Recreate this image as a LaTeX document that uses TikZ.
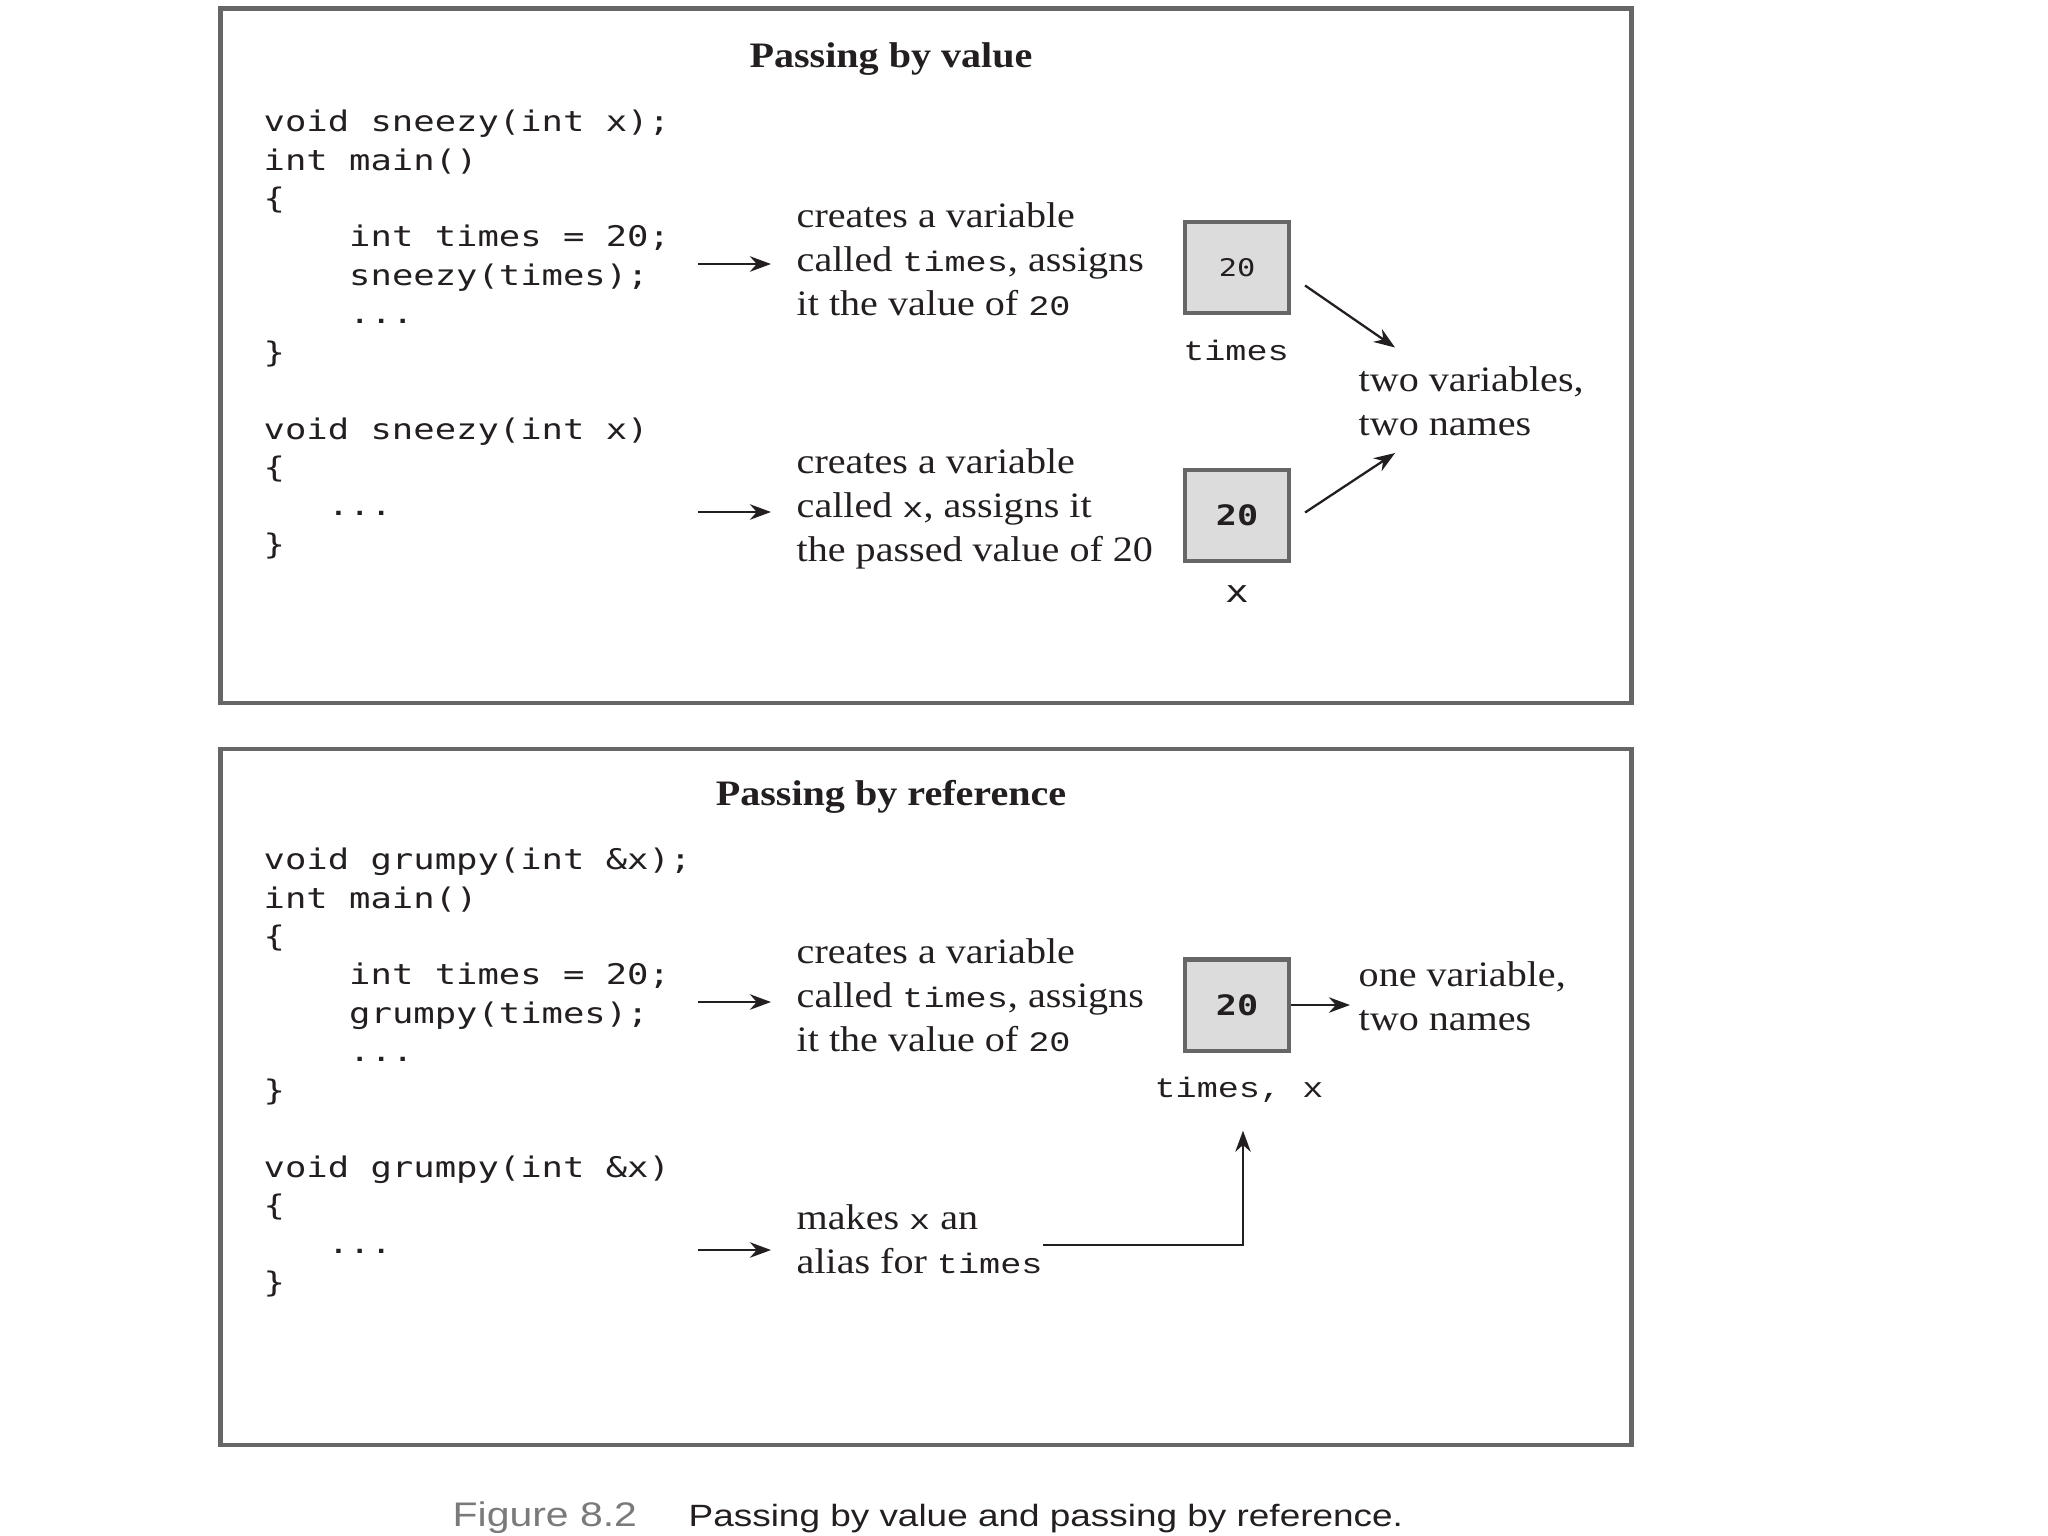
\documentclass[tikz,border=0pt]{standalone}
\usepackage{fontspec}
\setmainfont[FakeStretch=1.12]{Liberation Serif}
\newfontfamily\codefont[FakeStretch=1.25]{DejaVu Sans Mono}
\newfontfamily\namefont[FakeStretch=1.25]{Liberation Mono}
\newfontfamily\capfont[FakeStretch=1.2]{Liberation Sans}
\usepackage{xcolor}
\usetikzlibrary{arrows.meta}
\usetikzlibrary{positioning}

\definecolor{inkblack}{HTML}{231F20}
\definecolor{framegray}{HTML}{666666}
\definecolor{boxgray}{HTML}{DCDCDC}
\definecolor{captiongray}{HTML}{7A7A7A}

\newcommand{\vn}[1]{{\namefont\fontsize{8}{12.5}\selectfont #1}}

\tikzset{
	panelframe/.style={draw=framegray, line width=1.4pt},
	paneltitle/.style={anchor=base, inner sep=0pt, font=\bfseries\fontsize{10.18}{12}\selectfont},
	codeblock/.style={anchor=base west, inner sep=0pt, align=left,
		font=\codefont\fontsize{8.08}{10.93}\selectfont},
	notetext/.style={anchor=base west, inner sep=0pt, align=left,
		font=\fontsize{10.18}{12.5}\selectfont},
	valbox/.style={draw=framegray, line width=1.15pt, fill=boxgray,
		minimum width=1.04cm, minimum height=0.91cm, inner sep=0pt},
	varlabel/.style={anchor=base, inner sep=0pt, font=\namefont\fontsize{8}{9}\selectfont},
	link/.style={-{Stealth[length=6pt,width=4.4pt]}, line width=0.65pt, draw=inkblack},
}

\begin{document}
\begin{tikzpicture}[x=0.01cm, y=-0.01cm, every node/.style={text=inkblack}]
	\useasboundingbox (0,0) rectangle (2048,1536);
	
	% passing by value (multi-line nodes sit on their last baseline)
	\draw[panelframe] (220.5,8.5) rectangle (1631.5,703);
	\node[paneltitle] (title1) at (891,67) {Passing by value};
	\node[codeblock] (code1) at (263,554.4) {void sneezy(int x);\\int main()\\\{\\
		\hphantom{xxxx}int times = 20;\\\hphantom{xxxx}sneezy(times);\\\hphantom{xxxx}...\\\}\\
		\mbox{}\\void sneezy(int x)\\\{\\\hphantom{xxx}...\\\}};
	
	\node[notetext] (note1) at (796,315) {creates a variable\\called \vn{times}, assigns\\it the value of \vn{20}};
	\node[notetext] (note2) at (796,561) {creates a variable\\called \vn{x}, assigns it\\the passed value of 20};
	
	\node[valbox, font=\codefont\fontsize{6.9}{8}\selectfont] (val1) at (1237,267.5) {20};
	\node[valbox, font=\codefont\bfseries\fontsize{8}{9}\selectfont] (val2) at (1237,515.5) {20};
	\node[varlabel] (name1) at (1236,360) {times};
	\node[varlabel, font=\codefont\fontsize{8.8}{9}\selectfont] (name2) at (1237,602) {x};
	
	\node[notetext] (sum1) at (1358,435) {two variables,\\two names};
	
	\coordinate (from1) at (698,264);
	\coordinate (from2) at (698,512);
	\draw[link, shorten >=0.25cm] (from1) -- (from1 -| note1.west);
	\draw[link, shorten >=0.25cm] (from2) -- (from2 -| note2.west);
	\draw[link] ([shift={(14,18)}]val1.east) -- ([shift={(37,-18)}]sum1.north west);
	\draw[link] ([shift={(14,-3)}]val2.east) -- ([shift={(37,17)}]sum1.south west);
	
	% passing by reference
	\draw[panelframe] (220.5,749) rectangle (1631.5,1445);
	\node[paneltitle] (title2) at (891,805) {Passing by reference};
	\node[codeblock] (code2) at (263,1292.4) {void grumpy(int \&x);\\int main()\\\{\\
		\hphantom{xxxx}int times = 20;\\\hphantom{xxxx}grumpy(times);\\\hphantom{xxxx}...\\\}\\
		\mbox{}\\void grumpy(int \&x)\\\{\\\hphantom{xxx}...\\\}};
	
	\node[notetext] (note3) at (796,1051) {creates a variable\\called \vn{times}, assigns\\it the value of \vn{20}};
	\node[notetext] (note4) at (796,1273) {makes \vn{x} an\\alias for \vn{times}};
	
	\node[valbox, font=\codefont\bfseries\fontsize{8}{9}\selectfont] (val3) at (1237,1005) {20};
	\node[varlabel] (name3) at (1239,1097) {times, x};
	\node[notetext] (sum2) at (1358,1030) {one variable,\\two names};
	
	\coordinate (from3) at (698,1002);
	\coordinate (from4) at (698,1250);
	\draw[link, shorten >=0.25cm] (from3) -- (from3 -| note3.west);
	\draw[link, shorten >=0.25cm] (from4) -- (from4 -| note4.west);
	\draw[link, shorten >=0.08cm] (val3.east) -- (val3.east -| sum2.west);
	\draw[link, shorten >=0.28cm] ([shift={(0,6)}]note4.east) -| ([shift={(4,0)}]name3.south);
	
	% caption
	\node[anchor=base west, inner sep=0pt, font=\capfont\fontsize{9.7}{10}\selectfont, text=captiongray] (figno) at (452,1526) {Figure 8.2};
	\node[anchor=base west, inner sep=0pt, font=\capfont\fontsize{8.75}{10}\selectfont] (figcap) at (688,1526) {Passing by value and passing by reference.};
\end{tikzpicture}
\end{document}
